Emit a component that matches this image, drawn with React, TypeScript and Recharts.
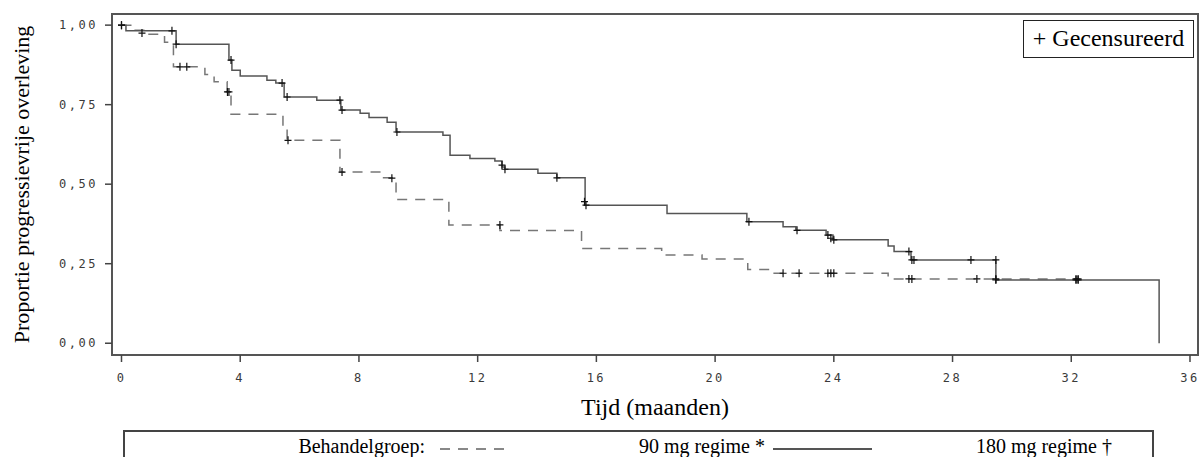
import { ComposedChart, Line, Scatter, XAxis, YAxis, ReferenceArea } from "recharts";

// tijd in maanden, proportie progressievrij
const xTicks = [0, 4, 8, 12, 16, 20, 24, 28, 32, 36];
const yTicks = [0, 0.25, 0.5, 0.75, 1];

const regime180Steps = [
  { t: 0, s: 1 }, { t: 0.15, s: 0.982 }, { t: 1.84, s: 0.94 }, { t: 3.62, s: 0.89 },
  { t: 3.72, s: 0.858 }, { t: 4.0, s: 0.84 }, { t: 4.9, s: 0.827 }, { t: 5.2, s: 0.818 },
  { t: 5.48, s: 0.774 }, { t: 6.58, s: 0.764 }, { t: 7.39, s: 0.733 }, { t: 8.04, s: 0.723 },
  { t: 8.34, s: 0.71 }, { t: 8.95, s: 0.695 }, { t: 9.25, s: 0.664 }, { t: 10.83, s: 0.654 },
  { t: 11.07, s: 0.591 }, { t: 11.74, s: 0.581 }, { t: 12.58, s: 0.573 }, { t: 12.82, s: 0.554 },
  { t: 12.92, s: 0.547 }, { t: 14.03, s: 0.534 }, { t: 14.67, s: 0.52 }, { t: 15.62, s: 0.434 },
  { t: 18.38, s: 0.408 }, { t: 21.07, s: 0.382 }, { t: 22.29, s: 0.366 }, { t: 22.72, s: 0.355 },
  { t: 23.74, s: 0.34 }, { t: 23.97, s: 0.325 }, { t: 25.83, s: 0.306 }, { t: 26.03, s: 0.288 },
  { t: 26.6, s: 0.262 }, { t: 29.46, s: 0.199 }, { t: 34.96, s: 0 },
];

const regime90Steps = [
  { t: 0, s: 1 }, { t: 0.4, s: 0.984 }, { t: 0.75, s: 0.971 }, { t: 1.45, s: 0.946 },
  { t: 1.75, s: 0.869 }, { t: 2.81, s: 0.845 }, { t: 3.12, s: 0.822 }, { t: 3.56, s: 0.792 },
  { t: 3.69, s: 0.72 }, { t: 5.44, s: 0.68 }, { t: 5.58, s: 0.638 }, { t: 7.36, s: 0.538 },
  { t: 8.8, s: 0.52 }, { t: 9.25, s: 0.452 }, { t: 11.03, s: 0.372 }, { t: 12.75, s: 0.354 },
  { t: 15.5, s: 0.298 }, { t: 18.2, s: 0.277 }, { t: 19.56, s: 0.265 }, { t: 21.1, s: 0.232 },
  { t: 21.95, s: 0.22 }, { t: 25.83, s: 0.202 }, { t: 32.23, s: 0.202 },
];

const regime180Censored = [
  { t: 0, s: 1 }, { t: 1.7, s: 0.982 }, { t: 1.84, s: 0.94 }, { t: 3.69, s: 0.89 },
  { t: 5.41, s: 0.818 }, { t: 5.58, s: 0.774 }, { t: 7.36, s: 0.764 }, { t: 7.43, s: 0.733 },
  { t: 9.28, s: 0.664 }, { t: 12.82, s: 0.56 }, { t: 12.92, s: 0.547 }, { t: 14.67, s: 0.52 },
  { t: 15.6, s: 0.445 }, { t: 15.65, s: 0.434 }, { t: 21.14, s: 0.382 }, { t: 22.76, s: 0.355 },
  { t: 23.8, s: 0.34 }, { t: 23.9, s: 0.33 }, { t: 24.0, s: 0.325 }, { t: 26.53, s: 0.288 },
  { t: 26.63, s: 0.262 }, { t: 26.7, s: 0.262 }, { t: 28.62, s: 0.262 }, { t: 29.46, s: 0.262 },
  { t: 29.46, s: 0.199 }, { t: 32.16, s: 0.199 }, { t: 32.23, s: 0.199 },
];

const regime90Censored = [
  { t: 0, s: 1 }, { t: 0.69, s: 0.975 }, { t: 1.97, s: 0.869 }, { t: 2.2, s: 0.869 },
  { t: 3.57, s: 0.79 }, { t: 3.62, s: 0.79 }, { t: 5.61, s: 0.638 }, { t: 7.43, s: 0.538 },
  { t: 9.11, s: 0.519 }, { t: 12.75, s: 0.372 }, { t: 22.29, s: 0.22 }, { t: 22.83, s: 0.22 },
  { t: 23.8, s: 0.22 }, { t: 23.9, s: 0.22 }, { t: 24.0, s: 0.22 }, { t: 26.53, s: 0.202 },
  { t: 26.63, s: 0.202 }, { t: 28.82, s: 0.202 }, { t: 29.46, s: 0.202 }, { t: 32.16, s: 0.202 },
  { t: 32.23, s: 0.202 },
];

const xDomain = [-0.32, 36.27];
const yDomain = [-0.037, 1.035];

const serif = '"Liberation Serif", "Times New Roman", serif';
const mono = '"DejaVu Sans Mono", monospace';

const fmtY = (v: number) => v.toFixed(2).replace(".", ",");

function CensorMark(props: any) {
  const { cx, cy } = props;
  if (cx == null || cy == null) return null;
  return (
    <path
      d={`M${cx - 3.5},${cy}H${cx + 3.5}M${cx},${cy - 4}V${cy + 4}`}
      stroke="#111"
      strokeWidth={1.2}
      fill="none"
    />
  );
}

const legendText = {
  position: "absolute" as const,
  top: 434,
  fontSize: 20,
  lineHeight: "24px",
  whiteSpace: "nowrap" as const,
  color: "#000",
};

export default function App() {
  return (
    <div
      style={{
        position: "absolute",
        left: 0,
        top: 0,
        width: 1200,
        height: 457,
        overflow: "hidden",
        background: "#fff",
        fontFamily: serif,
      }}
    >
      <ComposedChart width={1200} height={457} margin={{ top: 14, right: 2, bottom: 0, left: 0 }}>
        <XAxis
          type="number"
          dataKey="t"
          domain={xDomain}
          ticks={xTicks}
          allowDataOverflow
          height={102}
          axisLine={false}
          tickSize={7}
          tickMargin={11}
          tickLine={{ stroke: "#444", strokeWidth: 1.5 }}
          tick={{ fill: "#3a3a3a", fontSize: 12, fontFamily: mono, letterSpacing: 2.5 }}
          label={{
            value: "Tijd (maanden)",
            position: "insideTop",
            offset: 43,
            style: { fill: "#000", fontSize: 24, fontFamily: serif },
          }}
        />
        <YAxis
          type="number"
          dataKey="s"
          domain={yDomain}
          ticks={yTicks}
          allowDataOverflow
          width={112}
          axisLine={false}
          tickSize={7}
          tickMargin={7}
          tickFormatter={fmtY}
          tickLine={{ stroke: "#444", strokeWidth: 1.5 }}
          tick={{ fill: "#3a3a3a", fontSize: 12, fontFamily: mono, letterSpacing: 2.5 }}
          label={{
            value: "Proportie progressievrije overleving",
            angle: -90,
            position: "insideLeft",
            offset: 21,
            style: { textAnchor: "middle", fill: "#000", fontSize: 22, fontFamily: serif },
          }}
        />
        <Line
          data={regime90Steps}
          dataKey="s"
          type="stepAfter"
          stroke="#777"
          strokeWidth={1.5}
          strokeDasharray="10 8"
          dot={false}
          isAnimationActive={false}
        />
        <Line
          data={regime180Steps}
          dataKey="s"
          type="stepAfter"
          stroke="#555"
          strokeWidth={1.5}
          dot={false}
          isAnimationActive={false}
        />
        <Scatter data={regime90Censored} dataKey="s" shape={CensorMark} isAnimationActive={false} />
        <Scatter data={regime180Censored} dataKey="s" shape={CensorMark} isAnimationActive={false} />
        <ReferenceArea
          x1={xDomain[0]}
          x2={xDomain[1]}
          y1={yDomain[0]}
          y2={yDomain[1]}
          ifOverflow="visible"
          fill="none"
          fillOpacity={0}
          stroke="#555"
          strokeWidth={2}
        />
      </ComposedChart>

      <div
        style={{
          position: "absolute",
          left: 1023,
          top: 20,
          width: 171,
          height: 38,
          boxSizing: "border-box",
          border: "1.5px solid #222",
          fontSize: 24,
          lineHeight: "35px",
          textAlign: "center",
          color: "#000",
          whiteSpace: "nowrap",
        }}
      >
        + Gecensureerd
      </div>

      <div
        style={{
          position: "absolute",
          left: 123,
          top: 430,
          width: 1031,
          height: 50,
          boxSizing: "border-box",
          border: "2px solid #444",
        }}
      />
      <div style={{ ...legendText, right: 1200 - 425 }}>Behandelgroep:</div>
      <svg style={{ position: "absolute", left: 440, top: 444 }} width={74} height={10}>
        <line x1={0} y1={5} x2={72} y2={5} stroke="#888" strokeWidth={2} strokeDasharray="10 8" />
      </svg>
      <div style={{ ...legendText, right: 1200 - 765 }}>90 mg regime *</div>
      <svg style={{ position: "absolute", left: 773, top: 444 }} width={100} height={10}>
        <line x1={0} y1={5} x2={99} y2={5} stroke="#555" strokeWidth={2} />
      </svg>
      <div style={{ ...legendText, right: 1200 - 1112 }}>180 mg regime †</div>
    </div>
  );
}
